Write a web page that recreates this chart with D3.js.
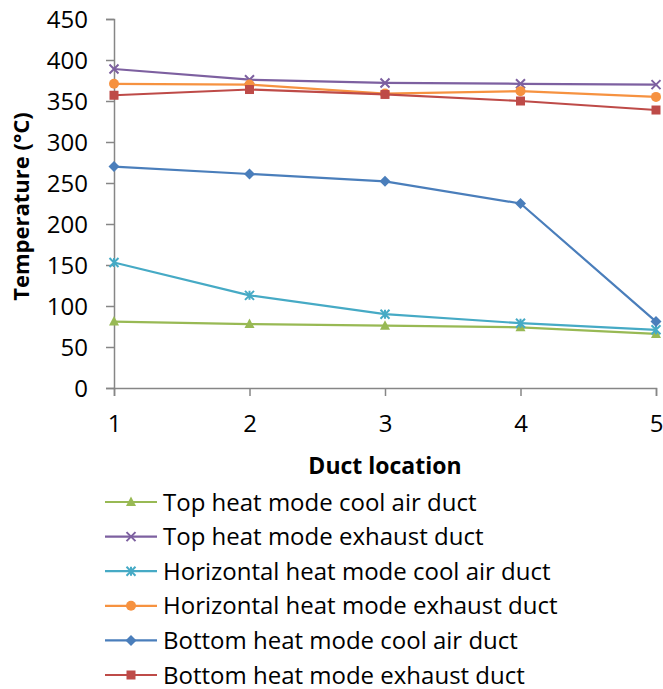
<!DOCTYPE html>
<html>
<head>
<meta charset="utf-8">
<script src="https://cdn.jsdelivr.net/npm/d3@7"></script>
<style>
  html, body { margin: 0; padding: 0; background: #fff; }
  text { font-family: "Open Sans", sans-serif; fill: #000; }
</style>
</head>
<body>
<svg id="chart" width="663" height="689"></svg>
<script>
// ---- Data ----
const ductLocations = [1, 2, 3, 4, 5];
const yTicks = [0, 50, 100, 150, 200, 250, 300, 350, 400, 450];

const seriesNames = [
  "Top heat mode cool air duct",
  "Top heat mode exhaust duct",
  "Horizontal heat mode cool air duct",
  "Horizontal heat mode exhaust duct",
  "Bottom heat mode cool air duct",
  "Bottom heat mode exhaust duct"
];
const topCool        = [81, 78, 76, 74, 66];
const topExhaust     = [389, 376, 372, 371, 370];
const horizCool      = [153, 113, 90, 79, 71];
const horizExhaust   = [371, 370, 359, 362, 355];
const bottomCool     = [270, 261, 252, 225, 81];
const bottomExhaust  = [357, 364, 358, 350, 339];

const seriesColors  = ["#98B954", "#7D60A0", "#46AAC5", "#F69240", "#4A7EBB", "#BE4B48"];
const seriesMarkers = ["triangle", "x", "star", "circle", "diamond", "square"];
const seriesValues  = [topCool, topExhaust, horizCool, horizExhaust, bottomCool, bottomExhaust];

// ---- Layout ----
const svg = d3.select("#chart");
const plot = { left: 114, right: 656, top: 19, bottom: 388 };

const x = d3.scaleLinear().domain([1, 5]).range([plot.left, plot.right]);
const y = d3.scaleLinear().domain([0, 450]).range([plot.bottom, plot.top]);

const axisColor = "#868686";

// Y axis
const yAxis = svg.append("g")
  .attr("transform", `translate(${plot.left},0)`)
  .call(d3.axisLeft(y).tickValues(yTicks).tickSize(8).tickPadding(18));
// X axis
const xAxis = svg.append("g")
  .attr("transform", `translate(0,${plot.bottom})`)
  .call(d3.axisBottom(x).tickValues(ductLocations).tickSize(8).tickPadding(19).tickFormat(d3.format("d")));

[yAxis, xAxis].forEach(g => {
  g.select(".domain").attr("stroke", axisColor).attr("stroke-width", 1.5);
  g.selectAll(".tick line").attr("stroke", axisColor).attr("stroke-width", 1.5);
  g.selectAll(".tick text").attr("fill", "#000")
    .style("font-family", '"Open Sans", sans-serif').style("font-size", "24px");
});
yAxis.selectAll(".tick text").attr("dy", "0.36em");

// Axis titles
svg.append("text")
  .attr("x", (plot.left + plot.right) / 2)
  .attr("y", 474)
  .attr("text-anchor", "middle")
  .style("font-size", "23px").style("font-weight", "bold")
  .text("Duct location");

svg.append("text")
  .attr("transform", `translate(29,${(plot.top + plot.bottom) / 2 + 3}) rotate(-90)`)
  .attr("text-anchor", "middle")
  .style("font-size", "22px").style("font-weight", "bold")
  .text("Temperature (°C)");

// ---- Markers ----
function drawMarker(g, type, color, cx, cy) {
  const s = 4.5;
  if (type === "triangle") {
    g.append("path").attr("d", `M${cx},${cy - 5.5}L${cx + 5},${cy + 4}L${cx - 5},${cy + 4}Z`).attr("fill", color);
  } else if (type === "x") {
    g.append("path").attr("d", `M${cx - s},${cy - s}L${cx + s},${cy + s}M${cx - s},${cy + s}L${cx + s},${cy - s}`)
      .attr("stroke", color).attr("stroke-width", 2).attr("fill", "none");
  } else if (type === "star") {
    g.append("path").attr("d", `M${cx - s},${cy - s}L${cx + s},${cy + s}M${cx - s},${cy + s}L${cx + s},${cy - s}M${cx},${cy - s}L${cx},${cy + s}`)
      .attr("stroke", color).attr("stroke-width", 2).attr("fill", "none");
  } else if (type === "circle") {
    g.append("circle").attr("cx", cx).attr("cy", cy).attr("r", 5).attr("fill", color);
  } else if (type === "diamond") {
    g.append("path").attr("d", `M${cx},${cy - 5.5}L${cx + 5.5},${cy}L${cx},${cy + 5.5}L${cx - 5.5},${cy}Z`).attr("fill", color);
  } else if (type === "square") {
    g.append("rect").attr("x", cx - 4.5).attr("y", cy - 4.5).attr("width", 9).attr("height", 9).attr("fill", color);
  }
}

// ---- Series ----
const line = d3.line().x((d, i) => x(ductLocations[i])).y(d => y(d));
seriesValues.forEach((vals, si) => {
  const g = svg.append("g");
  g.append("path").datum(vals)
    .attr("d", line)
    .attr("fill", "none")
    .attr("stroke", seriesColors[si])
    .attr("stroke-width", 2.2)
    .attr("stroke-linejoin", "round");
  vals.forEach((v, i) => drawMarker(g, seriesMarkers[si], seriesColors[si], x(ductLocations[i]), y(v)));
});

// ---- Legend ----
const legend = svg.append("g");
seriesNames.forEach((name, i) => {
  const cy = 502 + i * 34.6;
  const g = legend.append("g");
  g.append("line").attr("x1", 105).attr("x2", 157).attr("y1", cy).attr("y2", cy)
    .attr("stroke", seriesColors[i]).attr("stroke-width", 2.2);
  drawMarker(g, seriesMarkers[i], seriesColors[i], 131, cy);
  g.append("text").attr("x", 163).attr("y", cy + 8.5)
    .style("font-size", "24px")
    .text(name);
});
</script>
</body>
</html>
